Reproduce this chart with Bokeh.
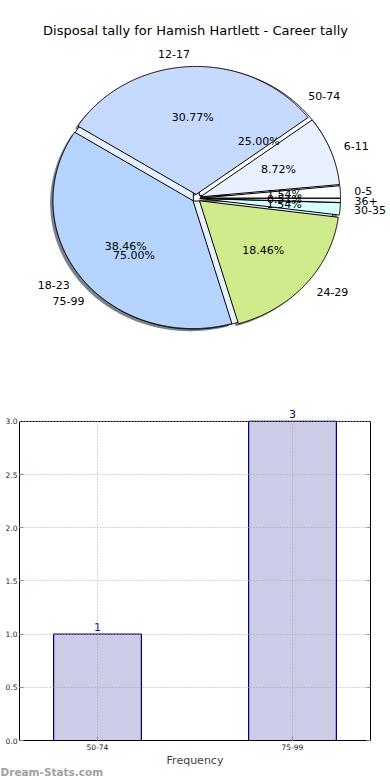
import numpy as np
from bokeh.plotting import figure
from bokeh.models import (LabelSet, ColumnDataSource, FixedTicker, Range1d, Title,
                          LinearAxis, Span)
from bokeh.core.properties import value
from bokeh.embed import file_html
from bokeh.resources import INLINE

# ---------------- data ----------------
title_text = "Disposal tally for Hamish Hartlett - Career tally"
tally_labels = ["0-5", "6-11", "12-17", "18-23", "24-29", "30-35", "36+"]
tally_counts = [3, 17, 60, 75, 36, 3, 1]
tally_colors = ["#ffffff", "#e9f1ff", "#c6d9ff", "#b5d5ff", "#d0eb8c", "#d6ffff", "#f4f4f4"]

range_labels = ["50-74", "75-99"]
range_counts = [1, 3]
range_colors = ["#ffffff", "#e9f1ff"]

bar_yticks = [0.0, 0.5, 1.0, 1.5, 2.0, 2.5, 3.0]
bar_xlabel = "Frequency"
watermark = "Dream-Stats.com"

FONT = value("DejaVu Sans")

# ---------------- layout constants ----------------
W, H1, H2 = 390, 380, 400
CX, CY = 195.8, 197.8      # pie centre in pixels (from top-left)
RX, RY = 140.0, 128.0      # pie radii in pixels
EXPLODE = 0.03
LABEL_D, PCT_D = 1.1, 0.6


def build_wedges(counts, explode):
    total = float(sum(counts))
    fr = np.array(counts) / total
    ends = np.cumsum(fr) * 360.0
    starts = ends - fr * 360.0
    out = []
    for s, e, f in zip(starts, ends, fr):
        mid = np.radians((s + e) / 2.0)
        ox, oy = explode * np.cos(mid), explode * np.sin(mid)
        n = max(3, int((e - s) * 3) + 2)
        th = np.radians(np.linspace(s, e, n))
        xs = [ox] + list(ox + np.cos(th)) + [ox]
        ys = [oy] + list(oy + np.sin(th)) + [oy]
        out.append(dict(xs=xs, ys=ys, mid=mid, ox=ox, oy=oy, pct="%.2f%%" % (100 * f)))
    return out


def darker(hexcol, k=0.3):
    h = hexcol.lstrip("#")
    r, g, b = (int(h[i:i + 2], 16) for i in (0, 2, 4))
    return "#%02x%02x%02x" % (int(r * k), int(g * k), int(b * k))


p1 = figure(width=W, height=H1,
            x_range=Range1d(-CX / RX, (W - CX) / RX),
            y_range=Range1d(-(H1 - CY) / RY, CY / RY),
            output_backend="svg", toolbar_location=None,
            x_axis_location=None, y_axis_location=None, min_border=0)
p1.grid.visible = False
p1.outline_line_color = None

w_main = build_wedges(tally_counts, EXPLODE)
w_sec = build_wedges(range_counts, EXPLODE)

# shadows of main pie
p1.patches(xs=[[x - 0.02 for x in w["xs"]] for w in w_main],
           ys=[[y - 0.02 for y in w["ys"]] for w in w_main],
           fill_color=[darker(c) for c in tally_colors], fill_alpha=0.65, line_color=None)
# secondary pie underneath
p1.patches(xs=[w["xs"] for w in w_sec], ys=[w["ys"] for w in w_sec],
           fill_color=range_colors, line_color="black", line_width=1)
# main pie
p1.patches(xs=[w["xs"] for w in w_main], ys=[w["ys"] for w in w_main],
           fill_color=tally_colors, line_color="black", line_width=1)


def add_texts(wedges, labels):
    for w, lab in zip(wedges, labels):
        lx = w["ox"] + LABEL_D * np.cos(w["mid"])
        ly = w["oy"] + LABEL_D * np.sin(w["mid"])
        p1.text(x=[lx], y=[ly], text=[lab], text_font=FONT, text_font_size="11px",
                text_align="left" if lx > 0 else "right", text_baseline="middle",
                text_color="black")
        px = w["ox"] + PCT_D * np.cos(w["mid"])
        py = w["oy"] + PCT_D * np.sin(w["mid"])
        p1.text(x=[px], y=[py], text=[w["pct"]], text_font=FONT, text_font_size="11px",
                text_align="center", text_baseline="middle", text_color="black")


add_texts(w_main, tally_labels)
add_texts(w_sec, range_labels)

p1.text(x=[(195 - CX) / RX], y=[(CY - 30) / RY], text=[title_text], text_font=FONT,
        text_font_size="13px", text_align="center", text_baseline="middle", text_color="black")

# ---------------- bar chart ----------------
positions = list(range(len(range_labels)))
Y_TOP = max(bar_yticks)
TOP_PAD = 0.15
p2 = figure(width=W, height=H2, x_range=Range1d(-0.4, 1.4), y_range=Range1d(0, Y_TOP + TOP_PAD),
            output_backend="svg", toolbar_location=None,
            min_border_left=19, min_border_right=20, min_border_top=25, min_border_bottom=40)
p2.vbar(x=positions, top=range_counts, width=0.45, fill_color="#cccce6",
        line_color="#000080", line_width=1.2)

p2.xaxis.ticker = FixedTicker(ticks=positions)
p2.xaxis.major_label_overrides = {i: l for i, l in zip(positions, range_labels)}
p2.yaxis.ticker = FixedTicker(ticks=bar_yticks)
p2.yaxis.major_label_overrides = {t: "%.1f" % t for t in bar_yticks}
p2.yaxis.bounds = (0, Y_TOP)

right_ax = LinearAxis(ticker=FixedTicker(ticks=bar_yticks), bounds=(0, Y_TOP),
                      major_label_text_font_size="7.5px", major_label_text_color=None,
                      major_label_standoff=0)
p2.add_layout(right_ax, "right")

for ax in (p2.xaxis[0], p2.yaxis[0], right_ax):
    ax.major_tick_in = 4
    ax.major_tick_out = 0
    ax.minor_tick_in = 0
    ax.minor_tick_out = 0
    ax.major_label_text_font = "DejaVu Sans"
    ax.axis_line_color = "black"
    ax.major_tick_line_color = "#888888"
for ax in (p2.xaxis[0], p2.yaxis[0]):
    ax.major_label_text_font_size = "7.5px"
    ax.major_label_text_color = "#222222"
p2.xaxis.major_label_standoff = 3
p2.yaxis.major_label_standoff = 2
p2.xaxis.axis_label = bar_xlabel
p2.xaxis.axis_label_text_font = "DejaVu Sans"
p2.xaxis.axis_label_text_font_size = "11px"
p2.xaxis.axis_label_text_font_style = "normal"
p2.xaxis.axis_label_standoff = 1

p2.ygrid.ticker = FixedTicker(ticks=bar_yticks)
p2.ygrid.grid_line_color = "#a8a8a8"
p2.ygrid.grid_line_dash = "1 2"
p2.ygrid.level = "overlay"
p2.xgrid.visible = False
p2.segment(x0=positions, y0=[0] * len(positions), x1=positions, y1=[Y_TOP] * len(positions),
           line_color="#a8a8a8", line_dash="1 2", line_width=1, level="overlay")
p2.outline_line_color = None
p2.add_layout(Span(location=Y_TOP, dimension="width", line_color="black", line_width=1))

src = ColumnDataSource(dict(x=positions, y=range_counts, t=[str(c) for c in range_counts]))
p2.add_layout(LabelSet(x="x", y="y", text="t", source=src, y_offset=3,
                       text_align="center", text_baseline="bottom",
                       text_font=value("DejaVu Sans"), text_font_size=value("11px"),
                       text_color="#000080"))
p2.add_layout(Title(text=watermark, align="left", offset=-19, standoff=-8,
                    vertical_align="top",
                    text_font="DejaVu Sans", text_font_size="10.5px",
                    text_font_style="bold", text_color="#a0a0a0"), "below")

open("out.html", "w").write(file_html([p1, p2], INLINE))
